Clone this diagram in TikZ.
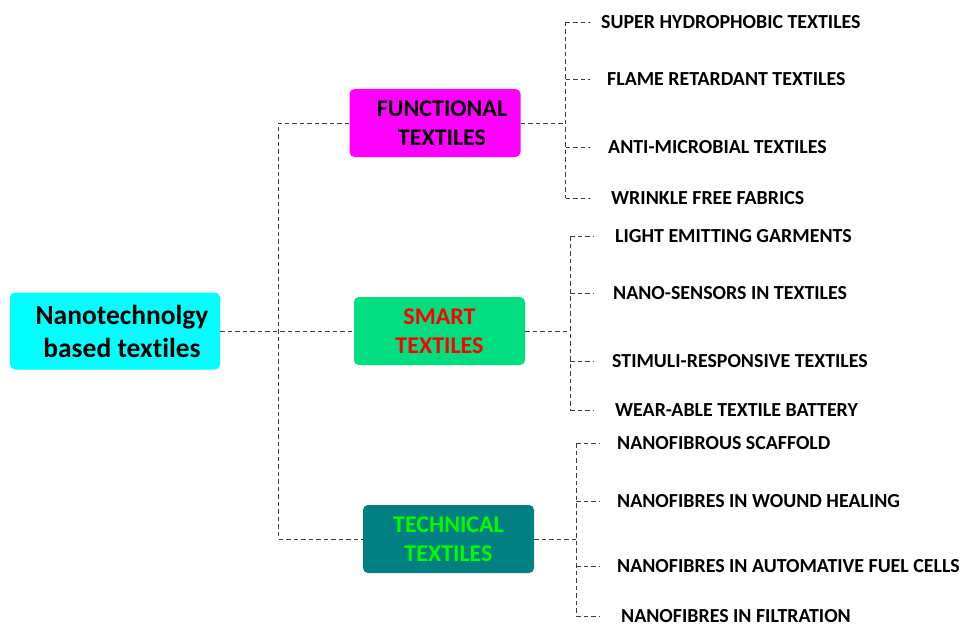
\documentclass[tikz,border=0pt]{standalone}
\usepackage{fontspec}
\setmainfont{Carlito}[Ligatures=NoCommon]
\usetikzlibrary{positioning,calc}

\definecolor{rootcyan}{RGB}{0,255,255}
\definecolor{funcpink}{RGB}{255,0,255}
\definecolor{smartgreen}{RGB}{0,222,128}
\definecolor{techteal}{RGB}{0,128,128}
\definecolor{techtext}{RGB}{0,250,0}
\definecolor{linkgray}{RGB}{60,60,60}

\tikzset{
  link/.style={draw=linkgray,line width=0.8pt,dash pattern=on 4.5pt off 3pt},
  topic/.style={rounded corners=5pt,align=center,inner sep=0pt,
    minimum width=171pt,minimum height=68pt,
    font=\fontsize{24}{28.8}\selectfont\bfseries},
  leaf/.style={anchor=west,inner sep=0pt,text height=12.8pt,text depth=0pt,
    font=\fontsize{19.9}{24}\selectfont\bfseries}
}

\begin{document}
\begin{tikzpicture}[x=1pt,y=-1pt]
        \useasboundingbox (0,0) rectangle (962,626);

        % root and the three branches
        \node[topic,fill=rootcyan,minimum width=210pt,minimum height=77pt,
              font=\fontsize{27.5}{33}\selectfont\bfseries] (root) at (115,331)
              {\hspace*{14pt}Nanotechnolgy\\\hspace*{14pt}based textiles};
        \node[topic,fill=funcpink] (func) at (435,123)
              {\hspace*{14pt}FUNCTIONAL\\\hspace*{14pt}TEXTILES};
        \node[topic,fill=smartgreen,text=red] (smart) at (439.5,331)
              {SMART\\TEXTILES};
        \node[topic,fill=techteal,text=techtext] (tech) at (448.5,539)
              {TECHNICAL\\TEXTILES};

        % trunk from the root
        \coordinate (spine) at ($(root.east)+(58,0)$);
        \draw[link] (root.east) -- (smart.west);
        \draw[link] (func.west) -| (spine) |- (tech.west);

        % leaves of each branch
        \foreach \i/\x/\y/\txt in {
            1/601/22/SUPER HYDROPHOBIC TEXTILES,
            2/607/79/FLAME RETARDANT TEXTILES,
            3/608/147/ANTI-MICROBIAL TEXTILES,
            4/611/198/WRINKLE FREE FABRICS}
                \node[leaf] (f\i) at (\x,\y) {\txt};

        \foreach \i/\x/\y/\txt in {
            1/615/236/LIGHT EMITTING GARMENTS,
            2/613/293/NANO-SENSORS IN TEXTILES,
            3/612/361/STIMULI-RESPONSIVE TEXTILES,
            4/615/410/WEAR-ABLE TEXTILE BATTERY}
                \node[leaf] (s\i) at (\x,\y) {\txt};

        \foreach \i/\x/\y/\txt in {
            1/617/443/NANOFIBROUS SCAFFOLD,
            2/617/501/NANOFIBRES IN WOUND HEALING,
            3/617/566/NANOFIBRES IN AUTOMATIVE FUEL CELLS,
            4/621/616/NANOFIBRES IN FILTRATION}
                \node[leaf] (t\i) at (\x,\y) {\txt};

        % brackets
        \coordinate (fb) at ($(func.east)+(45,0)$);
        \coordinate (sb) at ($(smart.east)+(45,0)$);
        \coordinate (tb) at ($(tech.east)+(42,0)$);
        \draw[link] (func.east) -- (fb);
        \draw[link] (smart.east) -- (sb);
        \draw[link] (tech.east) -- (tb);

        \foreach \g in {f,s,t} {
                \draw[link] (\g b |- \g1.west) -- (\g b |- \g4.west);
                \foreach \i in {1,...,4}
                        \draw[link] (\g b |- \g\i.west) -- ++(24,0);
        }
\end{tikzpicture}
\end{document}
